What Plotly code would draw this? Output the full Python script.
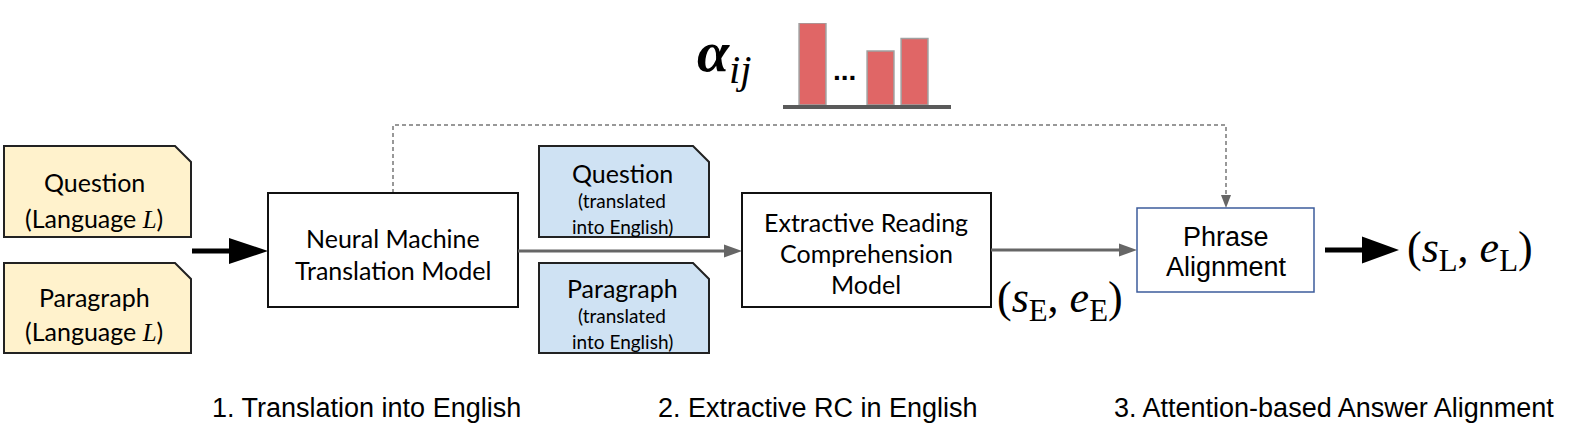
import plotly.graph_objects as go

# Diagram content
input_labels = ["Question", "Paragraph"]
language_var = "L"
translated_note = ["(translated", "into English)"]
nmt_label = ["Neural Machine", "Translation Model"]
rc_label = ["Extractive Reading", "Comprehension", "Model"]
align_label = ["Phrase", "Alignment"]
span_en = "(<i>s</i><sub>E</sub>, <i>e</i><sub>E</sub>)"
span_l = "(<i>s</i><sub>L</sub>, <i>e</i><sub>L</sub>)"
attn_label = "<b><i>α</i></b><sub><i>ij</i></sub>"
stage_labels = ["1. Translation into English",
                "2. Extractive RC in English",
                "3. Attention-based Answer Alignment"]

# attention bars (slot index, relative weight)
attn_slots = [0, 2, 3]
attn_weights = [1.0, 0.66, 0.81]

CAL = "Lato, Carlito, Calibri, sans-serif"
ARIAL = "Liberation Sans, Arial, sans-serif"
SERIF = "Liberation Serif, DejaVu Serif, serif"

config = {'displayModeBar': False, 'displaylogo': False}

fig = go.Figure()
fig.add_trace(go.Scatter(x=[0], y=[0], mode="markers", marker=dict(opacity=0),
                         hoverinfo="skip", showlegend=False))
fig.add_trace(go.Bar(x=attn_slots, y=attn_weights, width=0.79,
                     marker=dict(color="#e06666", line=dict(color="#a0a0a0", width=1.5)),
                     xaxis="x2", yaxis="y2", showlegend=False, hoverinfo="skip"))

shapes = []
annots = []


def folded_box(x0, y0, x1, y1, fill, fold=16):
    shapes.append(dict(type="path", xref="x", yref="y",
                       path=f"M{x0},{y0} L{x1 - fold},{y0} L{x1},{y0 + fold} L{x1},{y1} L{x0},{y1} Z",
                       fillcolor=fill, line=dict(color="#222222", width=2)))


def box(x0, y0, x1, y1, color="#111111", width=2):
    shapes.append(dict(type="rect", xref="x", yref="y", x0=x0, y0=y0, x1=x1, y1=y1,
                       fillcolor="white", line=dict(color=color, width=width)))


def harrow(x0, x1, y, color, lw, hl, hw):
    shapes.append(dict(type="line", xref="x", yref="y", x0=x0, y0=y, x1=x1 - hl + 1, y1=y,
                       line=dict(color=color, width=lw)))
    shapes.append(dict(type="path", xref="x", yref="y",
                       path=f"M{x1 - hl},{y - hw / 2} L{x1},{y} L{x1 - hl},{y + hw / 2} Z",
                       fillcolor=color, line=dict(color=color, width=0)))


def text(x, y, s, size, font=CAL, color="black"):
    annots.append(dict(x=x, y=y, xref="x", yref="y", text=s, showarrow=False,
                       font=dict(family=font, size=size, color=color),
                       xanchor="center", yanchor="middle", align="center"))


def lines(x, ys, labels, size, font=CAL):
    for yy, lab in zip(ys, labels):
        text(x, yy, lab, size, font)


# dashed feedback path from NMT to phrase alignment
dash = dict(color="#777777", width=1.5, dash="4px,3px")
shapes.append(dict(type="path", xref="x", yref="y",
                   path="M393,193 L393,125 L1226,125 L1226,197", line=dash))
shapes.append(dict(type="path", xref="x", yref="y",
                   path="M1221,195 L1226,208 L1231,195 Z",
                   fillcolor="#666666", line=dict(color="#666666", width=0)))

# input boxes (language L)
lang = f"(Language <i><span style='font-family:{SERIF}'>{language_var}</span></i>)"
folded_box(4, 146, 191, 237, "#fff2cc")
folded_box(4, 263, 191, 353, "#fff2cc")
lines(94, [182, 218], [input_labels[0], lang], 25)
lines(94, [297, 331], [input_labels[1], lang], 25)

harrow(192, 268, 251, "black", 5, 39, 26)

# NMT box
box(268, 193, 518, 307)
lines(393, [238, 270], nmt_label, 25)

# translated boxes
folded_box(539, 146, 709, 237, "#cfe2f3")
folded_box(539, 263, 709, 353, "#cfe2f3")
text(622, 173, input_labels[0], 25)
lines(622, [200, 226], translated_note, 19)
text(622, 288, input_labels[1], 25)
lines(622, [315, 341], translated_note, 19)

harrow(518, 742, 251, "#666666", 3, 18, 13)

# extractive RC box
box(742, 193, 991, 307)
lines(866, [222, 253, 284], rc_label, 25)

harrow(991, 1137, 250, "#666666", 3, 18, 13)
text(1060, 300, span_en, 44, SERIF)

# phrase alignment box
box(1137, 208, 1314, 292, color="#3d5c9c", width=1.5)
lines(1226, [237, 267], align_label, 27, ARIAL)

harrow(1325, 1399, 250, "black", 5, 37, 27)
text(1470, 250, span_l, 44, SERIF)

# attention weights
text(724, 55, attn_label, 58, SERIF)
text(844, 70, "<b>...</b>", 28, ARIAL)

# stage labels
for lab, xc in zip(stage_labels, [366, 818, 1334]):
    text(xc, 408, lab, 27, ARIAL)

fig.update_layout(
    width=1570, height=431,
    margin=dict(l=0, r=0, t=0, b=0),
    plot_bgcolor="white", paper_bgcolor="white",
    xaxis=dict(range=[0, 1570], visible=False, domain=[0, 1]),
    yaxis=dict(range=[431, 0], visible=False, domain=[0, 1]),
    xaxis2=dict(domain=[783 / 1570, 951 / 1570], range=[-0.868, 4.073], anchor="y2",
                showline=True, linecolor="#5a5a5a", linewidth=4,
                showticklabels=False, showgrid=False, zeroline=False, ticks=""),
    yaxis2=dict(domain=[1 - 105 / 431, 1 - 23 / 431], range=[0, 1.0], anchor="x2",
                visible=False),
    shapes=shapes,
    annotations=annots,
    showlegend=False,
)

# page body margin would otherwise shift the figure by 8px
fig.write_html("out.html", config=config, post_script="document.body.style.margin='0';")
